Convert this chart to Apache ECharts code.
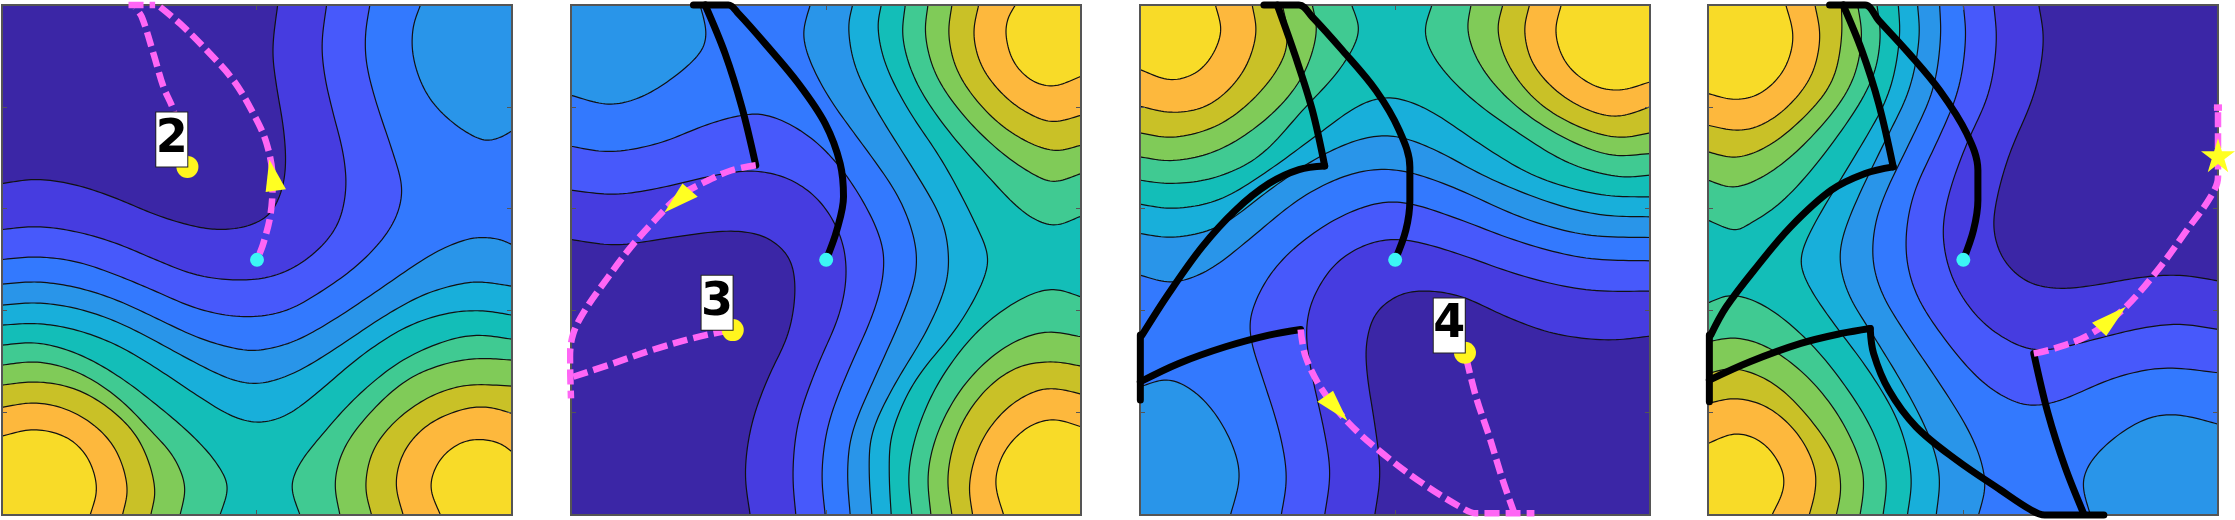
<!DOCTYPE html>
<html>
<head>
<meta charset="utf-8">
<title>contours</title>
<script src="https://cdn.jsdelivr.net/npm/echarts@6/dist/echarts.min.js"></script>
<style>
html, body { margin: 0; background: #fff; }
#chart { width: 2235px; height: 520px; }
</style>
</head>
<body>
<div id="chart"></div>
<script>
// band colours, lowest to highest level
const levelColors = ['#3b26a6', '#463ce0', '#4759fb', '#3379fe', '#2995e9', '#18afda',
    '#13beb8', '#40ca92', '#80cb58', '#c9c127', '#fdb83d', '#f8db28']

// axis ranges are in the units the curves were read in
const xRanges = [[5, 1537], [18, 1547], [14, 1541], [6, 1512]]
const yRange = [14, 1545]
const xTicks = [770, 783, 778, 760]
const yTicks = [320, 625, 930, 1237]

// contours: [level, points, corners that close the band above it]
const panel1Contours = [
    [1, [[5,550],[110,537],[230,555],[350,595],[470,645],[590,680],[670,688],[750,675],[810,640],[845,570],[857,490],[850,380],[830,260],[818,150],[833,14]], 'tr br bl'],
    [2, [[5,688],[110,679],[230,695],[350,730],[470,780],[590,825],[720,840],[830,825],[930,770],[1010,680],[1038,570],[1030,460],[1000,340],[975,230],[966,130],[980,14]], 'tr br bl'],
    [3, [[5,778],[110,770],[230,785],[350,825],[470,875],[590,925],[720,950],[850,935],[970,870],[1090,780],[1180,670],[1207,570],[1180,460],[1130,310],[1100,190],[1097,100],[1110,14]], 'tr br bl'],
    [4, [[1262,14],[1240,80],[1240,170],[1280,280],[1350,360],[1450,420],[1500,412],[1537,392]], 'tr'],
    [4, [[5,852],[110,845],[230,862],[350,900],[470,955],[600,1015],[720,1048],[780,1050],[880,1025],[1000,960],[1150,860],[1300,760],[1400,718],[1450,712],[1500,718],[1537,733]], 'br bl'],
    [5, [[5,915],[110,908],[230,925],[350,965],[470,1025],[590,1090],[700,1140],[780,1150],[880,1120],[1000,1050],[1150,950],[1280,880],[1400,848],[1450,846],[1537,858]], 'br bl'],
    [6, [[5,975],[110,970],[230,990],[350,1035],[470,1105],[590,1185],[700,1250],[780,1267],[860,1245],[950,1180],[1080,1070],[1220,980],[1350,938],[1450,932],[1537,945]], 'br bl'],
    [7, [[5,1035],[110,1028],[230,1060],[350,1125],[470,1215],[580,1310],[650,1390],[683,1460],[660,1545]], 'bl'],
    [7, [[900,1545],[875,1460],[900,1390],[970,1300],[1070,1190],[1200,1085],[1330,1025],[1430,1005],[1537,1017]], 'br'],
    [8, [[5,1095],[110,1085],[230,1115],[350,1190],[450,1290],[520,1370],[555,1460],[540,1545]], 'bl'],
    [8, [[1020,1545],[1005,1450],[1030,1350],[1100,1250],[1220,1140],[1340,1090],[1440,1075],[1537,1080]], 'br'],
    [9, [[5,1155],[110,1145],[230,1168],[340,1235],[420,1325],[465,1465],[452,1545]], 'bl'],
    [9, [[1115,1545],[1097,1460],[1120,1350],[1190,1260],[1290,1190],[1400,1155],[1537,1158]], 'br'],
    [10, [[5,1222],[100,1208],[200,1228],[290,1282],[350,1355],[382,1465],[367,1545]], 'bl'],
    [10, [[1210,1545],[1188,1450],[1215,1350],[1290,1270],[1400,1225],[1470,1222],[1537,1240]], 'br'],
    [11, [[5,1308],[100,1288],[200,1312],[262,1372],[290,1465],[270,1545]], 'bl'],
    [11, [[1322,1545],[1292,1460],[1320,1380],[1380,1330],[1440,1318],[1500,1330],[1537,1355]], 'br']
]
const panel2Contours = [
    [1, [[18,718],[150,735],[300,715],[490,692],[600,710],[670,770],[690,860],[670,1000],[610,1130],[560,1270],[540,1420],[555,1545]], 'br tr tl'],
    [2, [[18,570],[150,583],[300,560],[450,525],[570,512],[680,540],[770,610],[830,720],[843,830],[820,950],[760,1090],[700,1260],[683,1420],[692,1545]], 'br tr tl'],
    [3, [[18,438],[130,455],[280,430],[420,375],[520,347],[590,342],[680,375],[780,450],[880,580],[950,730],[953,830],[920,950],[850,1110],[790,1270],[770,1420],[780,1545]], 'br tr tl'],
    [4, [[18,285],[130,313],[230,290],[340,220],[410,150],[423,95],[405,14]], 'tl'],
    [4, [[735,14],[715,95],[730,170],[790,290],[890,430],[1000,590],[1050,730],[1050,830],[1010,950],[930,1130],[860,1300],[847,1420],[855,1545]], 'br tr'],
    [5, [[862,14],[850,80],[870,200],[940,340],[1040,500],[1130,660],[1150,770],[1140,860],[1080,1000],[990,1150],[920,1300],[912,1420],[920,1545]], 'br tr'],
    [6, [[948,14],[938,80],[960,190],[1030,330],[1130,480],[1230,670],[1268,770],[1250,850],[1170,990],[1050,1140],[980,1300],[972,1420],[978,1545]], 'br tr'],
    [7, [[1020,14],[1012,110],[1050,240],[1140,380],[1270,530],[1380,640],[1465,676],[1547,648]], 'tr'],
    [7, [[1040,1545],[1030,1420],[1060,1280],[1130,1130],[1250,980],[1380,890],[1465,867],[1547,890]], 'br'],
    [8, [[1088,14],[1080,100],[1110,220],[1190,340],[1300,450],[1400,520],[1465,545],[1547,520]], 'tr'],
    [8, [[1097,1545],[1088,1420],[1120,1290],[1200,1150],[1320,1040],[1440,995],[1547,1010]], 'br'],
    [9, [[1160,14],[1150,100],[1175,210],[1250,320],[1350,405],[1465,452],[1547,435]], 'tr'],
    [9, [[1160,1545],[1147,1430],[1180,1290],[1260,1170],[1360,1100],[1465,1085],[1547,1098]], 'br'],
    [10, [[1240,14],[1225,100],[1250,200],[1320,290],[1400,345],[1465,365],[1547,345]], 'tr'],
    [10, [[1222,1545],[1212,1450],[1250,1320],[1330,1220],[1420,1170],[1480,1167],[1547,1182]], 'br'],
    [11, [[1350,14],[1328,55],[1322,105],[1345,185],[1400,241],[1465,258],[1547,228]], 'tr'],
    [11, [[1315,1545],[1290,1445],[1320,1350],[1390,1280],[1465,1258],[1547,1280]], 'br']
]
const panel3Contours = [
    [1, [[717,1545],[733,1420],[715,1260],[695,1130],[692,1030],[720,940],[790,885],[870,872],[980,890],[1100,945],[1250,1000],[1420,1020],[1541,1008]], 'tr tl bl'],
    [2, [[567,1545],[583,1420],[565,1290],[530,1130],[512,1000],[530,900],[600,790],[700,730],[800,718],[950,755],[1150,825],[1350,870],[1541,873]], 'tr tl bl'],
    [3, [[437,1545],[453,1430],[430,1290],[380,1130],[345,1010],[350,930],[420,800],[560,680],[700,615],[800,606],[950,650],[1150,725],[1350,775],[1541,782]], 'tr tl bl'],
    [4, [[14,1160],[100,1138],[190,1185],[270,1290],[313,1420],[285,1545]], 'bl'],
    [4, [[14,825],[110,847],[220,810],[350,710],[500,590],[650,520],[780,508],[950,560],[1150,650],[1350,705],[1541,712]], 'tr tl'],
    [5, [[14,700],[110,712],[250,680],[400,570],[550,470],[680,415],[780,408],[900,450],[1050,530],[1250,610],[1400,645],[1541,650]], 'tr tl'],
    [6, [[14,612],[110,625],[250,600],[400,510],[550,400],[680,310],[770,292],[880,330],[1030,430],[1200,530],[1400,585],[1541,590]], 'tr tl'],
    [7, [[14,540],[100,550],[230,535],[370,470],[500,330],[610,210],[670,95],[648,14]], 'tl'],
    [7, [[888,14],[867,95],[900,180],[1000,290],[1150,400],[1300,490],[1450,530],[1541,525]], 'tr'],
    [8, [[14,470],[110,482],[250,450],[400,350],[500,230],[543,95],[530,14]], 'tl'],
    [8, [[1005,14],[995,90],[1030,190],[1120,300],[1260,400],[1420,465],[1541,460]], 'tr'],
    [9, [[14,398],[110,412],[250,375],[370,280],[445,170],[455,90],[440,14]], 'tl'],
    [9, [[1100,14],[1085,90],[1120,200],[1210,310],[1340,385],[1450,412],[1541,398]], 'tr'],
    [10, [[14,318],[110,337],[220,315],[320,220],[362,100],[350,14]], 'tl'],
    [10, [[1180,14],[1165,90],[1190,190],[1270,280],[1370,335],[1450,348],[1541,320]], 'tr'],
    [11, [[14,208],[110,240],[200,205],[257,100],[240,14]], 'tl'],
    [11, [[1275,14],[1258,95],[1290,190],[1370,255],[1450,270],[1541,245]], 'tr']
]
const panel4Contours = [
    [1, [[983,14],[997,120],[970,280],[900,450],[860,590],[850,690],[880,780],[950,845],[1040,865],[1150,855],[1280,832],[1400,825],[1512,842]], 'br bl tl'],
    [2, [[850,14],[858,120],[835,280],[770,430],[715,590],[700,710],[730,840],[810,960],[920,1035],[1000,1050],[1120,1025],[1280,985],[1400,972],[1512,988]], 'br bl tl'],
    [3, [[760,14],[767,110],[745,270],[680,430],[610,590],[590,750],[620,880],[700,1010],[810,1140],[900,1200],[965,1216],[1050,1200],[1200,1135],[1350,1103],[1512,1118]], 'br bl tl'],
    [4, [[1135,1545],[1113,1450],[1140,1380],[1230,1295],[1320,1250],[1400,1245],[1512,1272]], 'br'],
    [4, [[690,14],[693,110],[670,270],[600,430],[510,630],[492,770],[520,880],[590,1000],[690,1150],[790,1320],[825,1450],[805,1545]], 'bl tl'],
    [5, [[625,14],[630,110],[600,270],[530,420],[420,660],[395,770],[420,880],[490,1000],[580,1150],[660,1310],[690,1430],[680,1545]], 'bl tl'],
    [6, [[568,14],[572,110],[540,280],[450,450],[310,690],[280,780],[300,850],[370,960],[480,1110],[570,1270],[607,1430],[595,1545]], 'bl tl'],
    [7, [[505,14],[515,110],[490,240],[380,420],[230,600],[130,670],[85,690],[6,660]], 'tl'],
    [7, [[6,908],[75,885],[170,915],[300,1020],[420,1170],[500,1310],[533,1440],[523,1545]], 'bl'],
    [8, [[448,14],[460,110],[430,250],[330,390],[200,510],[85,562],[6,540]], 'tl'],
    [8, [[6,1025],[85,1013],[180,1040],[300,1130],[400,1260],[460,1400],[465,1470],[455,1545]], 'bl'],
    [9, [[400,14],[400,120],[370,250],[270,370],[170,445],[85,472],[6,455]], 'tl'],
    [9, [[6,1120],[85,1105],[200,1150],[310,1260],[385,1380],[398,1470],[385,1545]], 'bl'],
    [10, [[322,14],[337,110],[310,230],[230,330],[150,380],[85,390],[6,375]], 'tl'],
    [10, [[6,1210],[85,1195],[180,1220],[270,1300],[320,1400],[323,1470],[305,1545]], 'bl'],
    [11, [[236,14],[258,110],[230,210],[160,280],[85,298],[6,280]], 'tl'],
    [11, [[6,1330],[90,1300],[170,1330],[225,1410],[228,1470],[195,1545]], 'bl']
]

// paths drawn on top of the contours
const panel1Black = []
const panel1Magenta = [
    [[562,500],[520,330],[490,260],[460,160],[425,50],[405,22]],
    [[385,14],[465,14]],
    [[480,20],[540,70],[620,150],[700,240],[760,340],[800,430],[818,540],[812,640],[790,730],[771,779]]
]
const panel2Black = [
    [[783,779],[815,690],[835,590],[825,490],[780,370],[700,250],[600,130],[520,40],[490,14],[385,14]],
    [[420,14],[480,160],[530,320],[572,495]]
]
const panel2Magenta = [
    [[572,495],[500,510],[420,545],[340,590],[260,670],[190,750],[130,830],[60,930],[25,1000],[15,1070],[18,1195]],
    [[25,1130],[130,1095],[260,1050],[380,1015],[470,995],[503,990]]
]
const panel3Black = [
    [[778,779],[810,690],[822,600],[822,500],[790,390],[720,270],[620,150],[530,50],[490,14],[385,14]],
    [[425,14],[480,170],[530,330],[567,497]],
    [[567,497],[490,508],[400,550],[300,630],[200,740],[100,880],[20,1005]],
    [[15,1005],[15,1200]],
    [[15,1145],[130,1090],[270,1040],[400,1005],[495,988]]
]
const panel3Magenta = [
    [[495,988],[510,1070],[560,1170],[640,1270],[740,1360],[860,1450],[980,1525],[1020,1540],[1195,1540]],
    [[1135,1540],[1100,1440],[1060,1310],[1020,1190],[987,1058]]
]
const panel4Black = [
    [[760,779],[790,690],[803,600],[803,510],[770,400],[690,270],[600,160],[510,60],[470,14],[365,14]],
    [[405,14],[460,150],[510,310],[553,500]],
    [[553,500],[470,520],[370,570],[250,680],[150,800],[60,920],[14,1005]],
    [[10,1005],[10,1205]],
    [[10,1140],[130,1085],[280,1030],[400,1000],[485,985]],
    [[485,985],[495,1060],[540,1170],[620,1280],[740,1380],[870,1470],[960,1530],[1000,1545],[1175,1545]],
    [[1115,1540],[1060,1400],[1010,1240],[968,1060]]
]
const panel4Magenta = [
    [[968,1060],[1030,1045],[1130,1005],[1230,930],[1330,815],[1420,690],[1490,590],[1512,530],[1512,322]],
    [[1500,322],[1524,322]]
]

// markers
const arrowHeads = [
    [[808,478],[858,567],[797,575]],
    [[352,550],[398,590],[298,637]],
    [[592,1172],[635,1262],[545,1205]],
    [[1240,920],[1182,1008],[1140,968]]
]
const startPoints = [[771,779], [783,779], [778,779], [760,779]]
const endPoints = [[562,500], [503,990], [987,1058]]
const boxLabels = [['2', 515, 418], ['3', 456, 908], ['4', 940, 976]]
const starPoint = [1512, 465]

const allContours = [panel1Contours, panel2Contours, panel3Contours, panel4Contours]
const allBlack = [panel1Black, panel2Black, panel3Black, panel4Black]
const allMagenta = [panel1Magenta, panel2Magenta, panel3Magenta, panel4Magenta]
const gridLefts = [2, 571, 1140, 1708]
const frameColor = '#555'

function lerp(a, b, ta, tb, t) {
    const k = tb === ta ? 0 : (t - ta) / (tb - ta)
    return [a[0] + (b[0] - a[0]) * k, a[1] + (b[1] - a[1]) * k]
}

// centripetal catmull-rom through the read points, then a short moving average
function spline(pts) {
    if (pts.length < 3) {
        return pts
    }
    const n = pts.length
    const out = []
    const mirror = (a, b) => [2 * a[0] - b[0], 2 * a[1] - b[1]]
    for (let i = 0; i < n - 1; i++) {
        const p0 = i > 0 ? pts[i - 1] : mirror(pts[0], pts[1])
        const p1 = pts[i], p2 = pts[i + 1]
        const p3 = i < n - 2 ? pts[i + 2] : mirror(pts[n - 1], pts[n - 2])
        const step = (a, b) => Math.sqrt(Math.hypot(b[0] - a[0], b[1] - a[1]))
        const t0 = 0, t1 = t0 + step(p0, p1), t2 = t1 + step(p1, p2), t3 = t2 + step(p2, p3)
        for (let k = 0; k < 12; k++) {
            const t = t1 + (t2 - t1) * k / 12
            const a1 = lerp(p0, p1, t0, t1, t), a2 = lerp(p1, p2, t1, t2, t), a3 = lerp(p2, p3, t2, t3, t)
            const b1 = lerp(a1, a2, t0, t2, t), b2 = lerp(a2, a3, t1, t3, t)
            out.push(lerp(b1, b2, t1, t2, t))
        }
    }
    out.push(pts[n - 1])
    return out.map((p, i) => {
        const w = Math.min(4, i, out.length - 1 - i)
        let x = 0, y = 0
        for (let j = i - w; j <= i + w; j++) {
            x += out[j][0]
            y += out[j][1]
        }
        return [x / (2 * w + 1), y / (2 * w + 1)]
    })
}

function contourSeries(idx) {
    const xr = xRanges[idx]
    const corners = { tl: [xr[0], yRange[0]], tr: [xr[1], yRange[0]], br: [xr[1], yRange[1]], bl: [xr[0], yRange[1]] }
    // lowest band fills the whole frame
    const list = [[0, [corners.tl, corners.tr], 'br bl']].concat(allContours[idx])
    return {
        type: 'custom',
        coordinateSystem: 'cartesian2d',
        xAxisIndex: idx * 2,
        yAxisIndex: idx * 2,
        clip: true,
        z: 1,
        silent: true,
        data: list.map(c => [c[1][0][0], c[1][0][1]]),
        renderItem(params, api) {
            const c = list[params.dataIndex]
            const curve = spline(c[1].map(p => api.coord(p)))
            const fill = curve.concat(c[2].split(' ').map(k => api.coord(corners[k])))
            return {
                type: 'group',
                children: [
                    { type: 'polygon', shape: { points: fill }, style: { fill: levelColors[c[0]] } },
                    { type: 'polyline', shape: { points: curve }, style: { fill: null, stroke: '#111', lineWidth: 1.2 } }
                ]
            }
        }
    }
}

function pathSeries(idx, pts, color, width, dashed) {
    return {
        type: 'line',
        xAxisIndex: idx * 2,
        yAxisIndex: idx * 2,
        data: pts,
        smooth: 0.35,
        symbol: 'none',
        clip: false,
        silent: true,
        z: 5,
        lineStyle: {
            color: color,
            width: width,
            type: dashed ? [15, 6] : 'solid',
            cap: dashed ? 'butt' : 'round',
            join: 'round'
        }
    }
}

function arrowSeries(idx) {
    const head = arrowHeads[idx]
    return {
        type: 'custom',
        coordinateSystem: 'cartesian2d',
        xAxisIndex: idx * 2,
        yAxisIndex: idx * 2,
        z: 6,
        silent: true,
        data: [head[0]],
        renderItem(params, api) {
            return { type: 'polygon', shape: { points: head.map(p => api.coord(p)) }, style: { fill: '#ffff22' } }
        }
    }
}

function dotSeries(idx, pt, size, color, symbol) {
    return {
        type: 'scatter',
        xAxisIndex: idx * 2,
        yAxisIndex: idx * 2,
        data: [pt],
        symbol: symbol || 'circle',
        symbolSize: size,
        clip: false,
        silent: true,
        z: 7,
        itemStyle: { color: color, opacity: 1 }
    }
}

function labelSeries(idx) {
    const b = boxLabels[idx]
    return {
        type: 'scatter',
        xAxisIndex: idx * 2,
        yAxisIndex: idx * 2,
        data: [[b[1], b[2]]],
        symbolSize: 1,
        silent: true,
        z: 8,
        itemStyle: { color: '#fff', opacity: 1 },
        label: {
            show: true,
            position: 'inside',
            formatter: b[0],
            fontFamily: 'DejaVu Sans',
            fontWeight: 'bold',
            fontSize: 46,
            color: '#000',
            opacity: 1,
            backgroundColor: '#fff',
            borderColor: '#222',
            borderWidth: 1,
            width: 31,
            height: 54,
            lineHeight: 54,
            align: 'center',
            verticalAlign: 'middle'
        }
    }
}

const grids = [], xAxes = [], yAxes = [], series = []
xRanges.forEach((xr, i) => {
    grids.push({ left: gridLefts[i], top: 5, width: 510, height: 510, show: true, backgroundColor: 'transparent', borderColor: frameColor, borderWidth: 2, z: 2 })
    const tick = vals => ({ show: true, inside: true, length: 5, customValues: vals, lineStyle: { color: frameColor, width: 1 } })
    ;['bottom', 'top'].forEach(pos => xAxes.push({
        type: 'value', gridIndex: i, position: pos, min: xr[0], max: xr[1], z: 3,
        axisLine: { show: false }, axisLabel: { show: false }, splitLine: { show: false }, axisTick: tick([xTicks[i]])
    }))
    ;['left', 'right'].forEach(pos => yAxes.push({
        type: 'value', gridIndex: i, position: pos, min: yRange[0], max: yRange[1], inverse: true, z: 3,
        axisLine: { show: false }, axisLabel: { show: false }, splitLine: { show: false }, axisTick: tick(yTicks)
    }))
    series.push(contourSeries(i))
    allBlack[i].forEach(p => series.push(pathSeries(i, p, '#000', 7, false)))
    allMagenta[i].forEach(p => series.push(pathSeries(i, p, '#ff66f5', 6.5, true)))
    series.push(arrowSeries(i))
    series.push(dotSeries(i, startPoints[i], 14, '#3cf5f5'))
    if (endPoints[i]) {
        series.push(dotSeries(i, endPoints[i], 22, '#fff51e'))
        series.push(labelSeries(i))
    }
})
series.push(dotSeries(3, starPoint, 34, '#ffff22',
    'path://M50 0 L61 35 L98 35 L68 57 L79 92 L50 70 L21 92 L32 57 L2 35 L39 35 Z'))

const chart = echarts.init(document.getElementById('chart'))
chart.setOption({
    animation: false,
    backgroundColor: '#fff',
    grid: grids,
    xAxis: xAxes,
    yAxis: yAxes,
    series: series
})
</script>
</body>
</html>
